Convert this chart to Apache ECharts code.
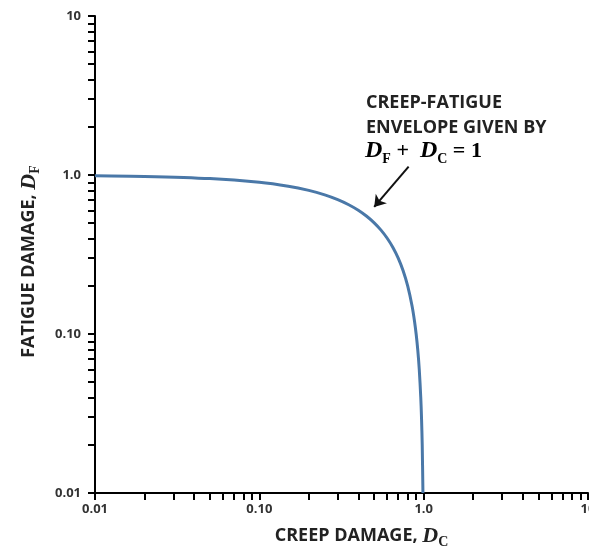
<!DOCTYPE html>
<html>
<head>
<meta charset="utf-8">
<script src="https://cdn.jsdelivr.net/npm/echarts@6/dist/echarts.min.js"></script>
<style>
  html, body { margin: 0; padding: 0; background: #ffffff; }
  #chart { width: 589px; height: 549px; }
</style>
</head>
<body>
<div id="chart"></div>
<script>
// Creep-fatigue interaction envelope (log-log)
const creepDamage   = [0.01, 0.02, 0.05, 0.10, 0.15, 0.20, 0.25, 0.30, 0.35, 0.40, 0.45, 0.50, 0.55, 0.60, 0.65, 0.70, 0.75, 0.80, 0.85, 0.88, 0.90, 0.92, 0.94, 0.96, 0.97, 0.98, 0.99];
const fatigueDamage = [0.99, 0.98, 0.95, 0.90, 0.85, 0.80, 0.75, 0.70, 0.65, 0.60, 0.55, 0.50, 0.45, 0.40, 0.35, 0.30, 0.25, 0.20, 0.15, 0.12, 0.10, 0.08, 0.06, 0.04, 0.03, 0.02, 0.01];

const decadeValues = [0.01, 0.1, 1, 10];
const decadeLabels = ['0.01', '0.10', '1.0', '10'];

// tick marks at 1..9 within each decade
const tickValues = [];
for (let d = 0; d < decadeValues.length - 1; d++) {
  for (let m = 1; m <= 9; m++) tickValues.push(+(decadeValues[d] * m).toPrecision(3));
}
tickValues.push(decadeValues[decadeValues.length - 1]);

const envelope = creepDamage.map((c, i) => [c, fatigueDamage[i]]);

function decadeLabel(v) {
  const i = decadeValues.findIndex(d => Math.abs(Math.log10(d) - Math.log10(v)) < 1e-6);
  return i >= 0 ? decadeLabels[i] : '';
}

const sansBold = { fontFamily: 'Open Sans', fontWeight: 'bold', color: '#222' };
const mathD = { fontFamily: 'Liberation Serif', fontWeight: 'bold', fontStyle: 'italic', color: '#222' };
const mathSub = { fontFamily: 'Liberation Serif', fontWeight: 'bold', color: '#222' };

function logAxis(extra) {
  return Object.assign({
    type: 'log',
    logBase: 10,
    min: 0.01,
    max: 10,
    axisLine: { show: true, lineStyle: { color: '#000', width: 2 } },
    axisTick: { show: true, length: 7, lineStyle: { color: '#000', width: 2 }, customValues: tickValues },
    minorTick: { show: false },
    splitLine: { show: false }
  }, extra);
}

// axis title: sans caption followed by an italic serif symbol with subscript
function axisTitleStyle(padding) {
  return {
    padding: padding,
    rich: {
      t: Object.assign({ fontSize: 18, lineHeight: 26, verticalAlign: 'middle' }, sansBold),
      d: Object.assign({ fontSize: 22, lineHeight: 26, verticalAlign: 'middle' }, mathD),
      s: Object.assign({ fontSize: 14, verticalAlign: 'bottom' }, mathSub)
    }
  };
}

const chart = echarts.init(document.getElementById('chart'), null, { renderer: 'canvas' });

chart.setOption({
  backgroundColor: '#ffffff',
  animation: false,
  grid: { left: 95, right: 1, top: 16, bottom: 56, containLabel: false, outerBoundsMode: 'none' },
  xAxis: logAxis({
    name: '{t|CREEP DAMAGE, }{d|D}{s|C}',
    nameLocation: 'middle',
    nameGap: 30,
    nameTextStyle: axisTitleStyle([0, 0, 0, 40]),
    axisLabel: {
      customValues: decadeValues,
      formatter: decadeLabel,
      margin: 10,
      fontFamily: 'Open Sans', fontWeight: 'bold', fontSize: 13, color: '#333'
    }
  }),
  yAxis: logAxis({
    name: '{t|FATIGUE DAMAGE, }{d|D}{s|F}',
    nameLocation: 'middle',
    nameGap: 53,
    nameTextStyle: axisTitleStyle([0, 14, 0, 0]),
    axisLabel: {
      customValues: decadeValues,
      formatter: decadeLabel,
      margin: 14,
      fontFamily: 'Open Sans', fontWeight: 'bold', fontSize: 13, color: '#333'
    }
  }),
  series: [{
    type: 'line',
    data: envelope,
    smooth: 0.3,
    showSymbol: false,
    symbol: 'none',
    clip: true,
    lineStyle: { color: '#4a78a8', width: 3 },
    markLine: {
      silent: true,
      symbol: ['none', 'arrow'],
      symbolSize: 11,
      label: { show: false },
      lineStyle: { color: '#111', width: 2, type: 'solid' },
      emphasis: { disabled: true },
      data: [[{ coord: [0.81, 1.13] }, { coord: [0.50, 0.63] }]]
    }
  }],
  graphic: [
    {
      type: 'text',
      left: 366,
      top: 90,
      style: {
        text: 'CREEP-FATIGUE\nENVELOPE GIVEN BY',
        font: 'bold 18px "Open Sans"',
        lineHeight: 25,
        fill: '#222'
      }
    },
    {
      type: 'text',
      left: 365,
      top: 139,
      style: {
        text: '{d|D}{s|F}{o| +  }{d|D}{s|C}{o| = 1}',
        rich: {
          d: Object.assign({ fontSize: 24, lineHeight: 30, verticalAlign: 'middle' }, mathD),
          s: Object.assign({ fontSize: 14, verticalAlign: 'bottom' }, mathSub),
          o: { fontFamily: 'Liberation Serif', fontWeight: 'bold', fontSize: 22, lineHeight: 30, verticalAlign: 'middle', color: '#222' }
        }
      }
    }
  ]
});
</script>
</body>
</html>
